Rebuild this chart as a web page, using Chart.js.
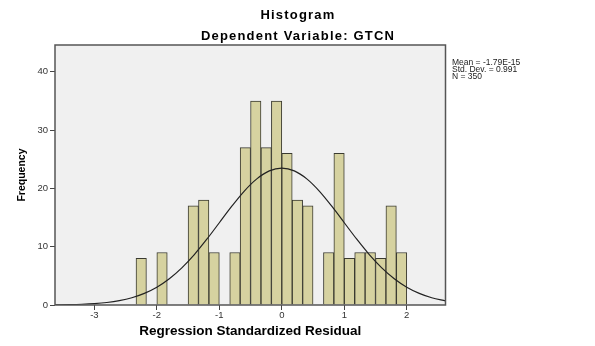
<!DOCTYPE html>
<html>
<head>
<meta charset="utf-8">
<script src="https://cdn.jsdelivr.net/npm/chart.js@4.4.1/dist/chart.umd.min.js"></script>
<style>
  html, body { margin: 0; padding: 0; background: #fff; }
  #wrap { width: 595px; height: 346px; position: relative; }
</style>
</head>
<body>
<div id="wrap"><canvas id="histChart"></canvas></div>
<script>
// bin centres (bin width 1/6) and counts
const binCenters = [-2.25, -2.0833, -1.9167, -1.75, -1.5833, -1.4167, -1.25, -1.0833, -0.9167, -0.75,
    -0.5833, -0.4167, -0.25, -0.0833, 0.0833, 0.25, 0.4167, 0.5833, 0.75, 0.9167,
    1.0833, 1.25, 1.4167, 1.5833, 1.75, 1.9167];
const frequencies = [8, 0, 9, 0, 0, 17, 18, 9, 0, 9,
    27, 35, 27, 35, 26, 18, 17, 0, 9, 26,
    8, 9, 9, 8, 17, 9];

// normal curve
const curveX = [-3.63, -3.4, -3.2, -3.0, -2.8, -2.6, -2.4, -2.2, -2.0, -1.8, -1.6, -1.4, -1.2, -1.0, -0.8, -0.6, -0.4, -0.2,
    0, 0.2, 0.4, 0.6, 0.8, 1.0, 1.2, 1.4, 1.6, 1.8, 2.0, 2.2, 2.4, 2.62];
const curveY = [0.03, 0.07, 0.13, 0.24, 0.43, 0.75, 1.25, 2.0, 3.06, 4.51, 6.38, 8.65, 11.28, 14.11, 16.95, 19.55, 21.64, 23.01,
    23.48, 23.01, 21.64, 19.55, 16.95, 14.11, 11.28, 8.65, 6.38, 4.51, 3.06, 2.0, 1.25, 0.71];

const xTickValues = [-3, -2, -1, 0, 1, 2];
const yTickValues = [0, 10, 20, 30, 40];
const statLines = ["Mean = -1.79E-15", "Std. Dev. = 0.991", "N = 350"];

const FONT = "'Liberation Sans', Arial, sans-serif";

const framePlugin = {
    id: "frame",
    beforeDraw(chart) {
        const { ctx, chartArea: a } = chart;
        ctx.save();
        ctx.fillStyle = "#f0f0f0";
        ctx.fillRect(a.left, a.top, a.right - a.left, a.bottom - a.top);
        ctx.restore();
    },
    afterDraw(chart) {
        const { ctx, chartArea: a } = chart;
        ctx.save();
        ctx.strokeStyle = "#555";
        ctx.lineWidth = 1.5;
        ctx.strokeRect(a.left, a.top, a.right - a.left, a.bottom - a.top);

        ctx.fillStyle = "#000";
        ctx.textAlign = "center";
        ctx.textBaseline = "middle";
        ctx.font = "bold 13px " + FONT;
        ctx.letterSpacing = "1.2px";
        ctx.fillText("Histogram", 298, 15);
        ctx.fillText("Dependent Variable: GTCN", 298, 36);
        ctx.letterSpacing = "0px";

        ctx.textAlign = "left";
        ctx.font = "8.5px " + FONT;
        ctx.fillStyle = "#222";
        statLines.forEach((t, i) => ctx.fillText(t, 452, 63 + i * 7));
        ctx.restore();
    }
};

new Chart(document.getElementById("histChart"), {
    type: "bar",
    data: {
        datasets: [
            {
                type: "line",
                data: curveX.map((x, i) => ({ x: x, y: curveY[i] })),
                borderColor: "#222",
                borderWidth: 1.2,
                pointRadius: 0,
                tension: 0.4,
                cubicInterpolationMode: "monotone",
                fill: false,
                order: 0,
            },
            {
                data: binCenters.map((x, i) => ({ x: x, y: frequencies[i] })),
                backgroundColor: "#d6d2a0",
                borderColor: "#3a3a30",
                borderWidth: 1,
                barPercentage: 1,
                categoryPercentage: 1,
                grouped: false,
                order: 1,
            },
        ],
    },
    options: {
        responsive: true,
        maintainAspectRatio: false,
        animation: false,
        layout: { padding: { left: 0, right: 149.5, top: 45, bottom: 0 } },
        plugins: {
            legend: { display: false },
            tooltip: { enabled: false },
        },
        scales: {
            x: {
                type: "linear",
                min: -3.63,
                max: 2.62,
                offset: false,
                border: { display: false },
                grid: { offset: false, drawOnChartArea: false, drawTicks: true, tickLength: 5, color: "#444", tickWidth: 1 },
                ticks: { font: { family: FONT, size: 9.5 }, color: "#333", padding: 0, autoSkip: false, maxRotation: 0 },
                afterBuildTicks: (s) => { s.ticks = xTickValues.map((v) => ({ value: v })); },
                afterFit: (s) => { s.height = 41; },
                title: {
                    display: true,
                    text: "Regression Standardized Residual",
                    font: { family: FONT, size: 13.5, weight: "bold" },
                    color: "#000",
                    padding: { top: 0, bottom: 7 },
                },
            },
            y: {
                min: 0,
                max: 44.6,
                border: { display: false },
                grid: { drawOnChartArea: false, drawTicks: true, tickLength: 5, color: "#444", tickWidth: 1 },
                ticks: { font: { family: FONT, size: 9.5 }, color: "#333", padding: 2 },
                afterBuildTicks: (s) => { s.ticks = yTickValues.map((v) => ({ value: v })); },
                afterFit: (s) => { s.width = 55; },
                title: {
                    display: true,
                    text: "Frequency",
                    font: { family: FONT, size: 10.5, weight: "bold" },
                    color: "#000",
                    padding: { top: 15.5, bottom: 0 },
                },
            },
        },
    },
    plugins: [framePlugin],
});
</script>
</body>
</html>
